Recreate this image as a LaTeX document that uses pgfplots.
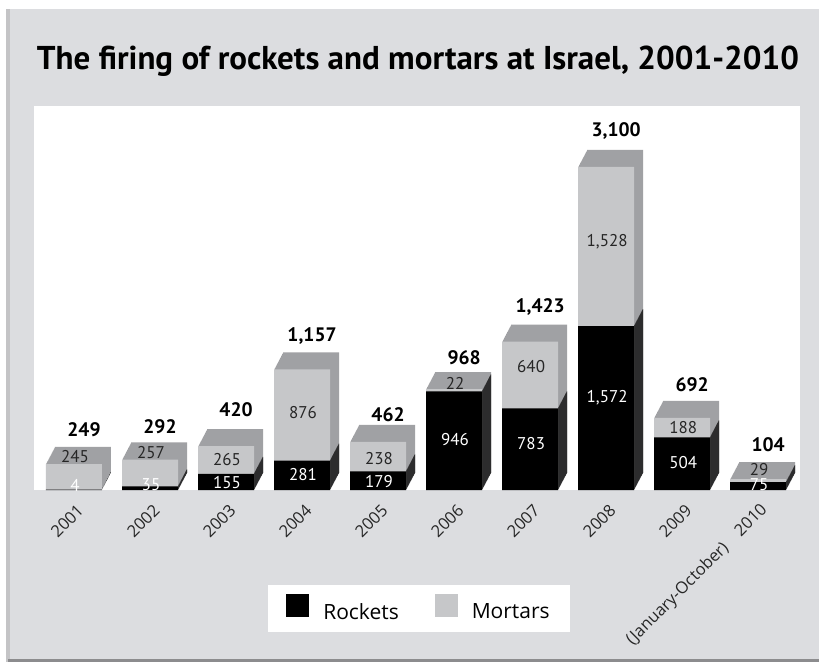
\documentclass[border=0pt]{standalone}
\usepackage{fontspec}
\setmainfont{PT Sans}
\newfontfamily\osans{Open Sans}
\usepackage{pgfplots}
\usepackage{pgfplotstable}
\pgfplotsset{compat=1.18}
\definecolor{bg}{RGB}{220,221,224}
\definecolor{mfront}{RGB}{198,199,201}
\definecolor{mside}{RGB}{160,161,164}
\definecolor{shadowc}{RGB}{196,196,198}
\definecolor{bottomc}{RGB}{140,140,142}
\pgfplotstableread{
x rock mort total yr ym yt
0 4 245 249 48 317 576
1 35 257 292 48 355 605
2 155 265 420 67 288 768
3 281 876 1157 144 739 1478
4 179 238 462 77 298 720
5 946 22 968 480 1027 1267
6 783 640 1423 441 1180 1756
7 1572 1528 3100 883 2380 3445
8 504 188 692 259 595 1008
9 75 29 104 48 192 432
}\data
\begin{document}
\begin{tikzpicture}[x=1pt,y=1pt]
\fill[white] (0,0) rectangle (819,662);
\fill[shadowc] (6,0) rectangle (819,653);
\fill[bottomc] (8,0) rectangle (819,3);
\fill[bg] (10,3) rectangle (819,653);
\node[anchor=base, font=\bfseries\fontsize{33}{38}\selectfont] at (418,592) {The firing of rockets and mortars at Israel, 2001-2010};
\begin{axis}[
  at={(34pt,172pt)}, anchor=south west,
  width=766pt, height=384pt, scale only axis,
  xmin=-0.526, xmax=9.55, ymin=0, ymax=3685,
  axis line style={draw=none},
  axis background/.style={fill=white},
  ytick=\empty, xtick={0,...,9},
  xticklabels={2001,2002,2003,2004,2005,2006,2007,2008,2009,(January-October)\quad 2010},
  major tick length=0pt,
  xticklabel style={font=\osans\fontsize{16.5}{19}\selectfont, text=black!85, xshift=9pt, yshift=-15pt, rotate=45, anchor=east},
  /pgf/number format/.cd, fixed, precision=0, 1000 sep={,}, assume math mode=true, /pgfplots/.cd,
  legend image code/.code={\fill[#1, draw=none] (0pt,-5pt) rectangle (23pt,18pt);},
  legend style={at={(axis description cs:0.5026,-0.3086)}, anchor=center, fill=white, draw=none,
    font=\osans\fontsize{21}{25}\selectfont, inner xsep=18pt, inner ysep=9pt,
    /tikz/every odd column/.append style={column sep=12pt},
    /tikz/every even column/.append style={column sep=34pt}},
  legend columns=2, legend cell align=left,
]
\pgfplotsinvokeforeach{18,17,...,1}{
  \addplot[ybar, bar width=56pt, bar shift=0pt, fill=mside, draw=none, xshift=#1*0.5pt, yshift=#1*0.95pt, forget plot] table[x=x,y=total]{\data};
  \addplot[ybar, bar width=56pt, bar shift=0pt, fill=black, draw=none, xshift=#1*0.5pt, yshift=#1*0.95pt, forget plot] table[x=x,y=rock]{\data};
}
\addplot[ybar, bar width=56pt, bar shift=0pt, fill=mfront, draw=none, forget plot] table[x=x,y=total]{\data};
\addplot[ybar, bar width=56pt, bar shift=0pt, fill=black, draw=none, forget plot] table[x=x,y=rock]{\data};
% labels
\addplot[draw=none, mark=none, forget plot, nodes near coords, nodes near coords align={center}, point meta=explicit,
  every node near coord/.append style={font=\fontsize{17}{20}\selectfont, text=white, xshift=1pt, anchor=center, inner sep=0pt}]
  table[x=x,y=yr,meta=rock]{\data};
\addplot[draw=none, mark=none, forget plot, nodes near coords, nodes near coords align={center}, point meta=explicit,
  every node near coord/.append style={font=\fontsize{17}{20}\selectfont, text=black!85, xshift=1pt, anchor=center, inner sep=0pt}]
  table[x=x,y=ym,meta=mort]{\data};
\addplot[draw=none, mark=none, forget plot, nodes near coords, nodes near coords align={center}, point meta=explicit,
  every node near coord/.append style={font=\bfseries\fontsize{19.5}{22}\selectfont, text=black, xshift=10pt, anchor=center, inner sep=0pt}]
  table[x=x,y=yt,meta=total]{\data};
\addlegendimage{fill=black}
\addlegendentry{Rockets}
\addlegendimage{fill=mfront}
\addlegendentry{Mortars}
\end{axis}
\end{tikzpicture}
\end{document}
